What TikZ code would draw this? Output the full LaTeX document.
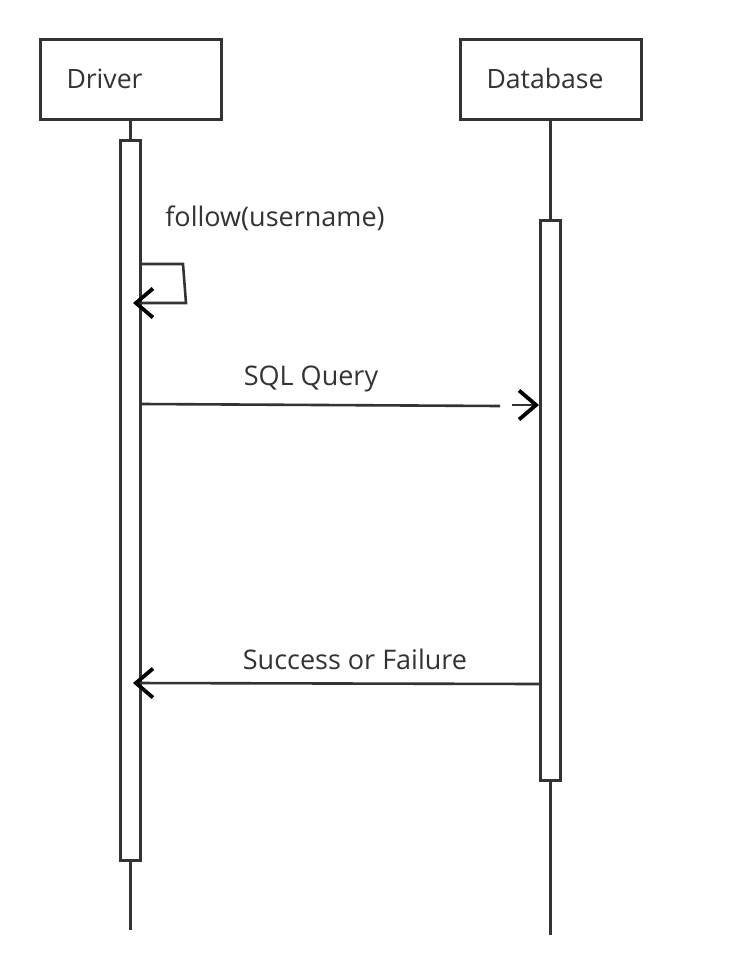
\documentclass[tikz,border=0pt]{standalone}
\usepackage{fontspec}
\setmainfont{Open Sans}
\usetikzlibrary{arrows.meta}
\definecolor{ink}{HTML}{333333}

\tikzset{
    actor/.style={draw=ink, line width=1.5pt, fill=white, text=ink, font=\fontsize{13.3}{15}\selectfont,
        minimum width=90.5pt, minimum height=40pt, text width=64pt, align=left, inner sep=0pt},
    activation/.style={draw=ink, line width=1.5pt, fill=white, minimum width=10pt, inner sep=0pt},
    lifeline/.style={draw=ink, line width=1.5pt},
    msg/.style={draw=ink, line width=1.3pt},
    call/.style={msg, -{Straight Barb[length=8.5pt, width=14.5pt, line width=1.9pt, color=black]}},
    label/.style={text=ink, font=\fontsize{13.5}{15}\selectfont, inner sep=0pt}
}

\begin{document}
\begin{tikzpicture}[x=0.5pt, y=-0.5pt]
    \useasboundingbox (0,0) rectangle (745,975);
    % lifelines
    \node[actor] (driver) at (130.5,79) {Driver};
    \node[actor] (database) at (550.5,79) {Database};
    \coordinate (driverend) at (130.5,930);
    \coordinate (databaseend) at (550.5,935);
    \draw[lifeline] (driver.south) -- (driverend);
    \draw[lifeline] (database.south) -- (databaseend);
    \node[activation, minimum height=360pt] (driveract) at (130.5,500) {};
    \node[activation, minimum height=280pt] (databaseact) at (550.5,500) {};
    % messages
    \coordinate (selfturn) at (183,264);
    \coordinate (selfback) at (186,303);
    \coordinate (selftip) at (133,303);
    \draw[call] (driveract.east |- selfturn) -- (selfturn) -- (selfback) -- (selftip);
    \node[label] (selflabel) at (275,218) {follow(username)};
    \coordinate (querygap) at (500,406);
    \coordinate (queryresume) at (512,405);
    \draw[msg] (driveract.east |- 0,404) -- (querygap);
    \draw[call] (queryresume) -- (databaseact.west |- queryresume);
    \node[label] (querylabel) at (311,379) {SQL Query};
    \coordinate (resulttip) at (133,683);
    \draw[call] (databaseact.west |- 0,684) -- (resulttip);
    \node[label] (resultlabel) at (355,659) {Success or Failure};
\end{tikzpicture}
\end{document}
